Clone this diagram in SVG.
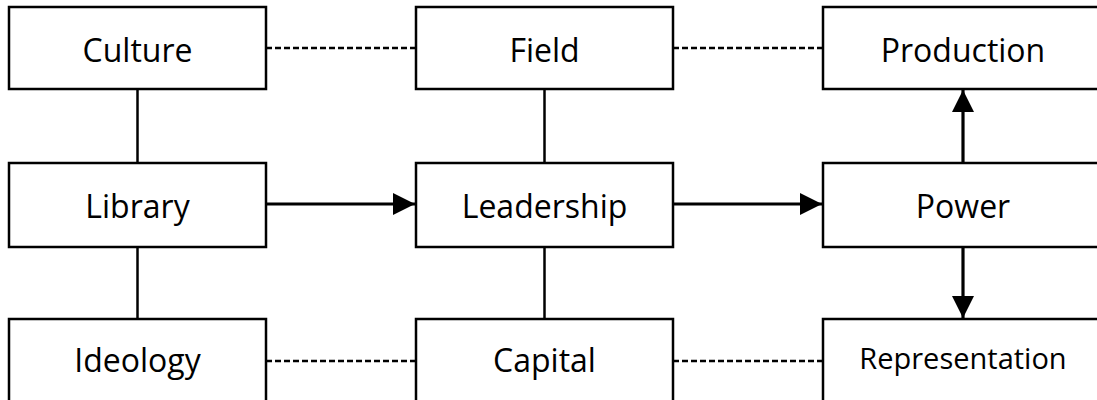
<svg xmlns="http://www.w3.org/2000/svg" width="1097" height="400" viewBox="0 0 1097 400">
  <style>
    .box { fill: #ffffff; stroke: #000000; stroke-width: 2.5; }
    .lbl { font-family: "Open Sans", "Liberation Sans", sans-serif; font-size: 32px; fill: #000000; text-anchor: middle; }
    .sm { font-size: 29px; }
    .solid { stroke: #000000; stroke-width: 2.5; fill: none; }
    .dash { stroke: #000000; stroke-width: 2.6; fill: none; stroke-dasharray: 6 3; }
    .arrow { stroke: #000000; stroke-width: 3.2; fill: none; marker-end: url(#head); }
  </style>
  <defs>
    <marker id="head" markerUnits="userSpaceOnUse" markerWidth="24" markerHeight="24" refX="22" refY="11" orient="auto">
      <path d="M0,0 L22,11 L0,22 Z" fill="#000000"/>
    </marker>
  </defs>
  <g id="connectors">
    <line class="dash" x1="266" y1="48" x2="416" y2="48"/>
    <line class="dash" x1="673" y1="48" x2="823" y2="48"/>
    <line class="dash" x1="266" y1="361" x2="416" y2="361"/>
    <line class="dash" x1="673" y1="361" x2="823" y2="361"/>
    <line class="solid" x1="137.5" y1="89" x2="137.5" y2="163"/>
    <line class="solid" x1="137.5" y1="247" x2="137.5" y2="319"/>
    <line class="solid" x1="544.5" y1="89" x2="544.5" y2="163"/>
    <line class="solid" x1="544.5" y1="247" x2="544.5" y2="319"/>
    <line class="arrow" x1="266" y1="204" x2="415" y2="204"/>
    <line class="arrow" x1="673" y1="204" x2="822" y2="204"/>
    <line class="arrow" x1="963" y1="163" x2="963" y2="90"/>
    <line class="arrow" x1="963" y1="247" x2="963" y2="318"/>
  </g>
  <g id="node-culture">
    <rect class="box" x="9" y="7" width="257" height="82"/>
    <text class="lbl" x="137.5" y="62">Culture</text>
  </g>
  <g id="node-field">
    <rect class="box" x="416" y="7" width="257" height="82"/>
    <text class="lbl" x="544.5" y="62">Field</text>
  </g>
  <g id="node-production">
    <rect class="box" x="823" y="7" width="280" height="82"/>
    <text class="lbl" x="963" y="62">Production</text>
  </g>
  <g id="node-library">
    <rect class="box" x="9" y="163" width="257" height="84"/>
    <text class="lbl" x="137.5" y="218">Library</text>
  </g>
  <g id="node-leadership">
    <rect class="box" x="416" y="163" width="257" height="84"/>
    <text class="lbl" x="544.5" y="218">Leadership</text>
  </g>
  <g id="node-power">
    <rect class="box" x="823" y="163" width="280" height="84"/>
    <text class="lbl" x="963" y="218">Power</text>
  </g>
  <g id="node-ideology">
    <rect class="box" x="9" y="319" width="257" height="86"/>
    <text class="lbl" x="137.5" y="372">Ideology</text>
  </g>
  <g id="node-capital">
    <rect class="box" x="416" y="319" width="257" height="86"/>
    <text class="lbl" x="544.5" y="372">Capital</text>
  </g>
  <g id="node-representation">
    <rect class="box" x="823" y="319" width="280" height="86"/>
    <text class="lbl sm" x="963" y="369">Representation</text>
  </g>
</svg>
